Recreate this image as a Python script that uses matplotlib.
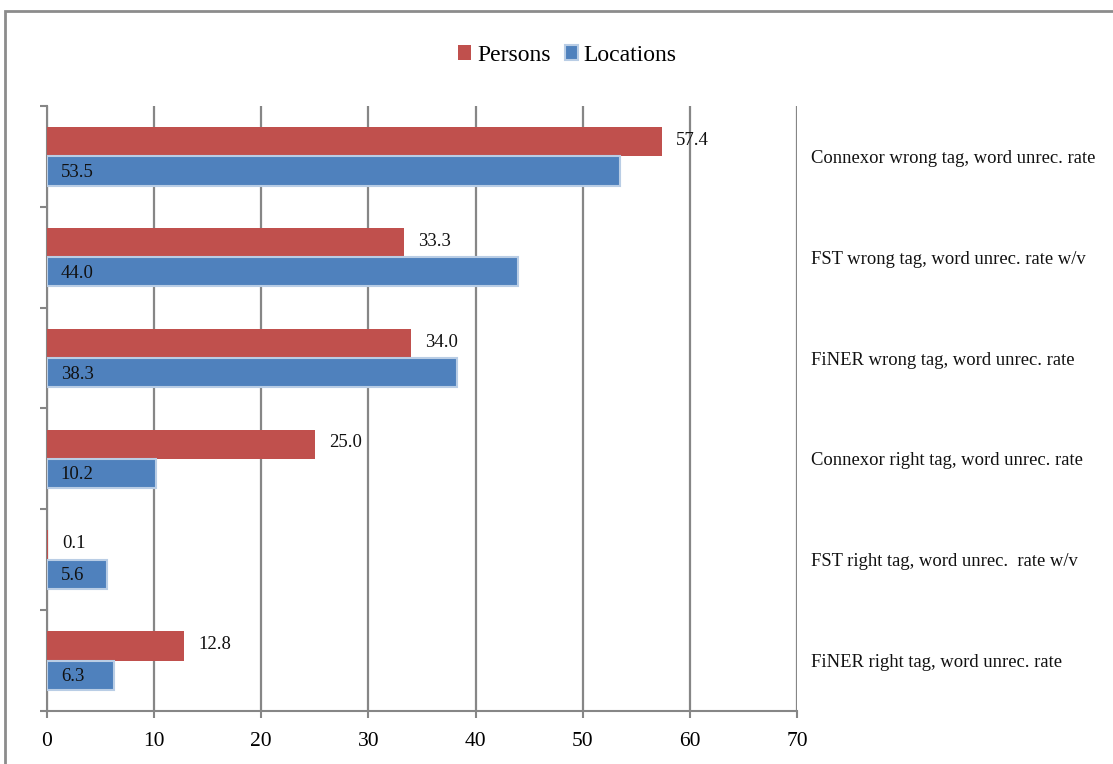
import numpy as np
import matplotlib.pyplot as plt
from matplotlib.patches import Rectangle

plt.rcParams['font.family'] = ['Liberation Serif', 'DejaVu Serif']

# categories from bottom to top
categories = [
    'FiNER right tag, word unrec. rate',
    'FST right tag, word unrec.  rate w/v',
    'Connexor right tag, word unrec. rate',
    'FiNER wrong tag, word unrec. rate',
    'FST wrong tag, word unrec. rate w/v',
    'Connexor wrong tag, word unrec. rate',
]
persons = [12.8, 0.1, 25.0, 34.0, 33.3, 57.4]
locations = [6.3, 5.6, 10.2, 38.3, 44.0, 53.5]
xticks = [0, 10, 20, 30, 40, 50, 60, 70]

red = '#c0504d'
blue = '#4f81bd'
grid_c = '#868686'

fig = plt.figure(figsize=(11.13, 7.64), dpi=100)
ax = fig.add_axes([0.0422, 0.0694, 0.6739, 0.7919])

y = np.arange(len(categories))
h = 0.29
b1 = ax.barh(y + h / 2, persons, height=h, color=red, edgecolor='none', label='Persons', zorder=3)
b2 = ax.barh(y - h / 2, locations, height=h, color=blue, edgecolor='#b9cde5', linewidth=1.5,
             label='Locations', zorder=3)

for rect, v in zip(b1, persons):
    ax.annotate(f'{v:.1f}', (rect.get_width(), rect.get_y() + rect.get_height() / 2),
                xytext=(10, 1), textcoords='offset points', ha='left', va='center',
                fontsize=13.5, color='#111111', zorder=4)
for rect, v in zip(b2, locations):
    ax.annotate(f'{v:.1f}', (0, rect.get_y() + rect.get_height() / 2),
                xytext=(10, -1), textcoords='offset points', ha='left', va='center',
                fontsize=13.5, color='#111111', zorder=4)

for i, c in enumerate(categories):
    ax.text(1.0187, i - 0.02, c, transform=ax.get_yaxis_transform(), ha='left', va='center',
            fontsize=13.4, color='#111111')

ax.set_xlim(0, 70)
ax.set_ylim(-0.5, len(categories) - 0.5)
ax.set_xticks(xticks)
ax.set_xticklabels([str(t) for t in xticks], fontsize=15.5)
ax.set_yticks(np.arange(-0.5, len(categories)))
ax.set_yticklabels([])
ax.xaxis.grid(True, color=grid_c, linewidth=1.6, zorder=0)
ax.tick_params(axis='x', length=5, width=1.5, color=grid_c, pad=10)
ax.tick_params(axis='y', length=5, width=1.5, color=grid_c)
ax.spines['top'].set_visible(False)
ax.spines['right'].set_visible(False)
ax.spines['left'].set_color(grid_c)
ax.spines['left'].set_linewidth(1.5)
ax.spines['bottom'].set_color(grid_c)
ax.spines['bottom'].set_linewidth(1.5)

fig.legend(handles=[b1, b2], labels=['Persons', 'Locations'], loc='center',
           bbox_to_anchor=(0.51, 0.928), ncol=2, frameon=False, fontsize=17,
           handlelength=0.55, handleheight=0.6, handletextpad=0.25, columnspacing=0.6)

fig.patches.append(Rectangle((5 / 1113, -0.1), 1.2, 1.1 - 11 / 764, transform=fig.transFigure,
                             fill=False, edgecolor='#8c8c8c', linewidth=2))

fig.savefig('out.png', dpi=100)
